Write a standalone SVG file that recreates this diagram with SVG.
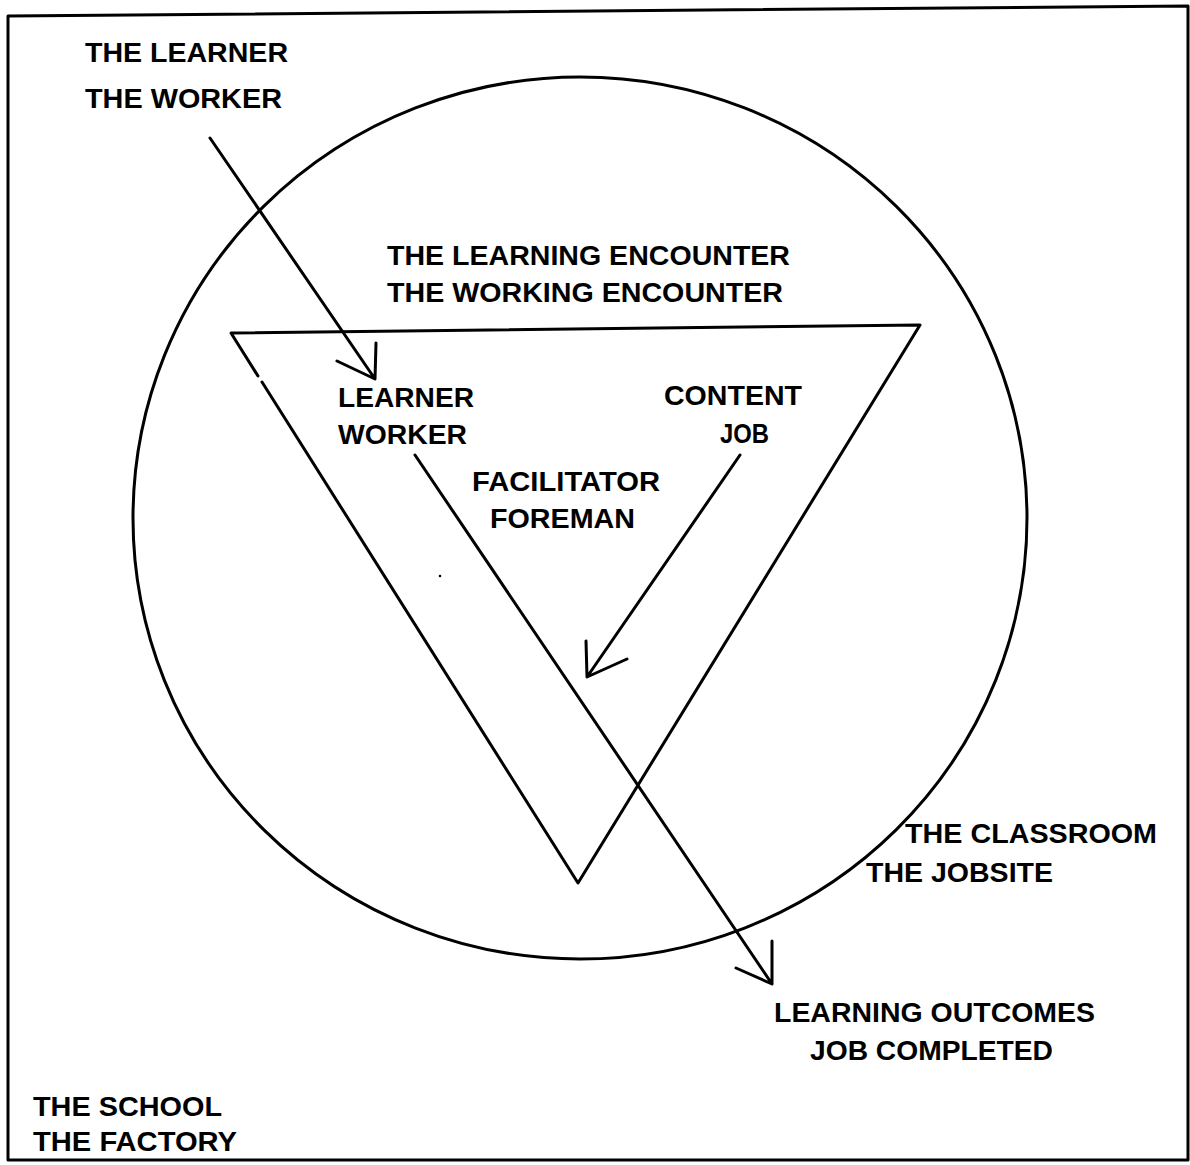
<svg xmlns="http://www.w3.org/2000/svg" width="1190" height="1165" viewBox="0 0 1190 1165">
<style>
.ln{fill:none;stroke:#000;stroke-width:3;stroke-linecap:round;stroke-linejoin:round}
.t{font-family:"Liberation Sans",Arial,sans-serif;font-weight:bold;font-size:27.5px;fill:#000}
</style>
<rect width="1190" height="1165" fill="#fff"/>
<g id="frame">
<path class="ln" d="M8,16 L1188,6 L1188,1160 L8,1160 Z" stroke-width="2.5"/>
</g>
<g id="school">
<text class="t" x="33" y="1116" textLength="189" lengthAdjust="spacingAndGlyphs">THE SCHOOL</text>
<text class="t" x="33" y="1151" textLength="204" lengthAdjust="spacingAndGlyphs">THE FACTORY</text>
</g>
<g id="classroom">
<ellipse class="ln" cx="580" cy="518" rx="447" ry="441"/>
<text class="t" x="905" y="843" textLength="252" lengthAdjust="spacingAndGlyphs">THE CLASSROOM</text>
<text class="t" x="866" y="882" textLength="187" lengthAdjust="spacingAndGlyphs">THE JOBSITE</text>
</g>
<g id="encounter">
<path class="ln" d="M262,382 L578,883 L920,325 L231,333 L258,376"/>
<text class="t" x="387" y="265" textLength="403" lengthAdjust="spacingAndGlyphs">THE LEARNING ENCOUNTER</text>
<text class="t" x="387" y="302" textLength="396" lengthAdjust="spacingAndGlyphs">THE WORKING ENCOUNTER</text>
</g>
<g id="learner">
<text class="t" x="85" y="62" textLength="203" lengthAdjust="spacingAndGlyphs">THE LEARNER</text>
<text class="t" x="85" y="108" textLength="197" lengthAdjust="spacingAndGlyphs">THE WORKER</text>
</g>
<g id="learner-worker">
<text class="t" x="338" y="407" textLength="136" lengthAdjust="spacingAndGlyphs">LEARNER</text>
<text class="t" x="338" y="444" textLength="129" lengthAdjust="spacingAndGlyphs">WORKER</text>
</g>
<g id="content-job">
<text class="t" x="664" y="405" textLength="138" lengthAdjust="spacingAndGlyphs">CONTENT</text>
<text class="t" x="720" y="443" textLength="49" lengthAdjust="spacingAndGlyphs">JOB</text>
</g>
<g id="facilitator">
<text class="t" x="472" y="491" textLength="188" lengthAdjust="spacingAndGlyphs">FACILITATOR</text>
<text class="t" x="490" y="528" textLength="145" lengthAdjust="spacingAndGlyphs">FOREMAN</text>
</g>
<g id="outcomes">
<text class="t" x="774" y="1022" textLength="321" lengthAdjust="spacingAndGlyphs">LEARNING OUTCOMES</text>
<text class="t" x="810" y="1060" textLength="243" lengthAdjust="spacingAndGlyphs">JOB COMPLETED</text>
</g>
<g id="connectors">
<path class="ln" d="M210,138 L375,379 M376,343 L375,379 L337,361"/>
<path class="ln" d="M415,455 L772,984 M772,941 L772,984 L736,968"/>
<path class="ln" d="M740,455 L587,677 M586,641 L587,677 L627,659"/>
<circle cx="440" cy="576" r="1.3" fill="#000"/>
</g>
</svg>
